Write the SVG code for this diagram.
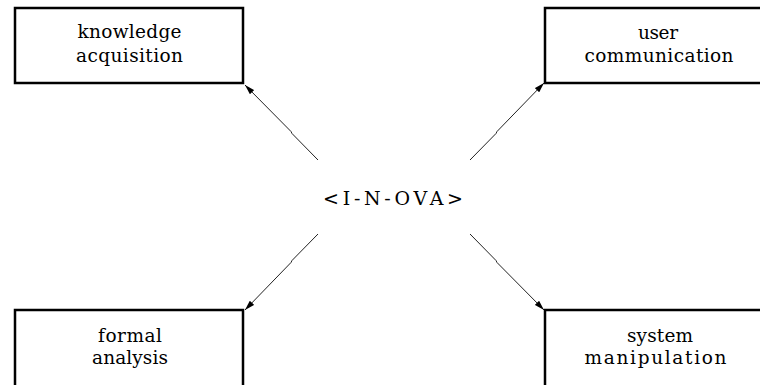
<svg xmlns="http://www.w3.org/2000/svg" width="760" height="385" viewBox="0 0 760 385">
<defs>
<marker id="ah" viewBox="0 0 10 6" refX="10" refY="3" markerWidth="10" markerHeight="6" markerUnits="userSpaceOnUse" orient="auto">
<path d="M0,0 L10,3 L0,6 Z" fill="#000"/>
</marker>
<style>
.box{fill:#fff;stroke:#000;stroke-width:2.5}
.lbl{font-family:'DejaVu Serif','Liberation Serif',serif;font-size:18.5px;fill:#000;text-anchor:middle}
.ctr{font-family:'DejaVu Serif','Liberation Serif',serif;font-size:19px;fill:#000;text-anchor:middle}
.conn{fill:none;stroke:#222;stroke-width:1}
</style>
</defs>
<rect width="760" height="385" fill="#fff"/>
<g id="knowledge-acquisition">
<rect class="box" x="15" y="8" width="228" height="75"/>
<text class="lbl" x="129.5" y="38" textLength="104" lengthAdjust="spacing">knowledge</text>
<text class="lbl" x="129.5" y="62" textLength="107" lengthAdjust="spacing">acquisition</text>
</g>
<g id="user-communication">
<rect class="box" x="545" y="8" width="250" height="75"/>
<text class="lbl" x="658" y="39" textLength="40" lengthAdjust="spacing">user</text>
<text class="lbl" x="659" y="62" textLength="149" lengthAdjust="spacing">communication</text>
</g>
<g id="formal-analysis">
<rect class="box" x="15" y="310" width="228" height="100"/>
<text class="lbl" x="130" y="342" textLength="64" lengthAdjust="spacing">formal</text>
<text class="lbl" x="130" y="364" textLength="76" lengthAdjust="spacing">analysis</text>
</g>
<g id="system-manipulation">
<rect class="box" x="545" y="310" width="250" height="100"/>
<text class="lbl" x="660" y="342" textLength="66" lengthAdjust="spacing">system</text>
<text class="lbl" x="655.5" y="364" textLength="142" lengthAdjust="spacing">manipulation</text>
</g>
<g id="inova">
<text class="ctr" x="393" y="205" textLength="140" lengthAdjust="spacing">&lt;I-N-OVA&gt;</text>
</g>
<g id="connectors">
<path class="conn" d="M318,160 L292,133.5 L291,131.5 L245,85" marker-end="url(#ah)"/>
<path class="conn" d="M470,160 L496,133.5 L497,131.5 L544,83" marker-end="url(#ah)"/>
<path class="conn" d="M318,234 L292,260.5 L291,262.5 L245,310" marker-end="url(#ah)"/>
<path class="conn" d="M470,234 L496,260.5 L497,262.5 L544,310" marker-end="url(#ah)"/>
</g>
</svg>
